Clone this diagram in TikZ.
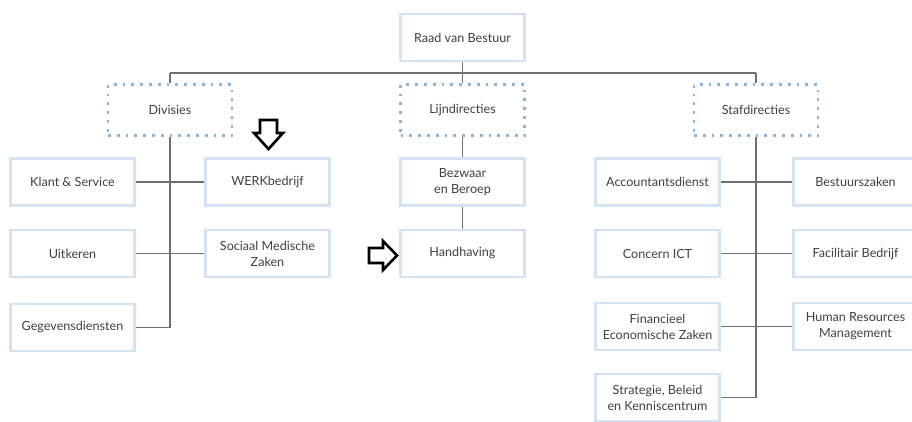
\documentclass[tikz,border=0pt]{standalone}
\usepackage{fontspec}
\setmainfont{Lato}
\definecolor{boxblue}{HTML}{D3E3F3}
\definecolor{dotblue}{HTML}{8AB6DD}
\definecolor{linegray}{HTML}{707070}
\definecolor{txt}{HTML}{404040}
\begin{document}
\begin{tikzpicture}[x=1pt,y=-1pt,
  unit/.style={draw=boxblue, line width=2.6pt, fill=white, minimum width=124pt, minimum height=47pt,
    inner sep=0pt, align=center, text=txt, font=\fontsize{12.6}{16}\selectfont},
  group/.style={draw=dotblue, line width=2.8pt, dash pattern=on 2.8pt off 6pt, fill=white,
    minimum width=124pt, minimum height=51pt, inner sep=0pt, align=center, text=txt,
    font=\fontsize{12.6}{16}\selectfont},
  conn/.style={draw=linegray, line width=1.1pt},
  bigarrow/.style={draw=black, line width=2.6pt, fill=white, line join=miter}
]
\fill[white] (0,0) rectangle (912,421);
\useasboundingbox (0,0) rectangle (912,421);

\coordinate (busL) at (170,73);
\coordinate (busR) at (756,73);

\node[unit] (raad) at (462.5,37.5) {Raad van Bestuur};
\node[group] (div) at (170,110) {Divisies};
\node[group] (lijn) at (462.5,110) {Lijndirecties};
\node[group] (staf) at (756,110) {Stafdirecties};

\node[unit] (klant) at (72.5,182) {Klant \& Service};
\node[unit] (werk) at (267.5,182) {WERKbedrijf};
\node[unit] (uitk) at (72.5,253.5) {Uitkeren};
\node[unit] (smz) at (267.5,253.5) {Sociaal Medische\\Zaken};
\node[unit] (geg) at (72.5,327.5) {Gegevensdiensten};

\node[unit] (bezw) at (462.5,182) {Bezwaar\\en Beroep};
\node[unit] (handh) at (462.5,253.5) {Handhaving};

\node[unit] (acc) at (657.5,182) {Accountantsdienst};
\node[unit] (bestz) at (855.5,182) {Bestuurszaken};
\node[unit] (ict) at (657.5,253.5) {Concern ICT};
\node[unit] (fac) at (855.5,253.5) {Facilitair Bedrijf};
\node[unit] (fez) at (657.5,326.5) {Financieel\\Economische Zaken};
\node[unit] (hrm) at (855.5,326.5) {Human Resources\\Management};
\node[unit] (skc) at (657.5,397.5) {Strategie, Beleid\\en Kenniscentrum};

\draw[conn] (busL) -- (busR);
\draw[conn] (raad.south) -- (raad.south |- busL);
\draw[conn] (busL) -- (div.north);
\draw[conn] (raad.south |- busL) -- (lijn.north);
\draw[conn] (busR) -- (staf.north);

\draw[conn] (div.south) |- (geg.east);
\draw[conn] (klant.east) -- (werk.west);
\draw[conn] (uitk.east) -- (smz.west);

\draw[conn] (lijn.south) -- (bezw.north);
\draw[conn] (bezw.south) -- (handh.north);

\draw[conn] (staf.south) |- (skc.east);
\draw[conn] (acc.east) -- (bestz.west);
\draw[conn] (ict.east) -- (fac.west);
\draw[conn] (fez.east) -- (hrm.west);

% highlight arrows
\draw[bigarrow] (260,120) -- (277,120) -- (277,133) -- (283,133) -- (268.5,149)
  -- (254,133) -- (260,133) -- cycle;
\draw[bigarrow] (369,248) -- (383,248) -- (383,241) -- (397,255.5) -- (383,270)
  -- (383,263) -- (369,263) -- cycle;
\end{tikzpicture}
\end{document}
